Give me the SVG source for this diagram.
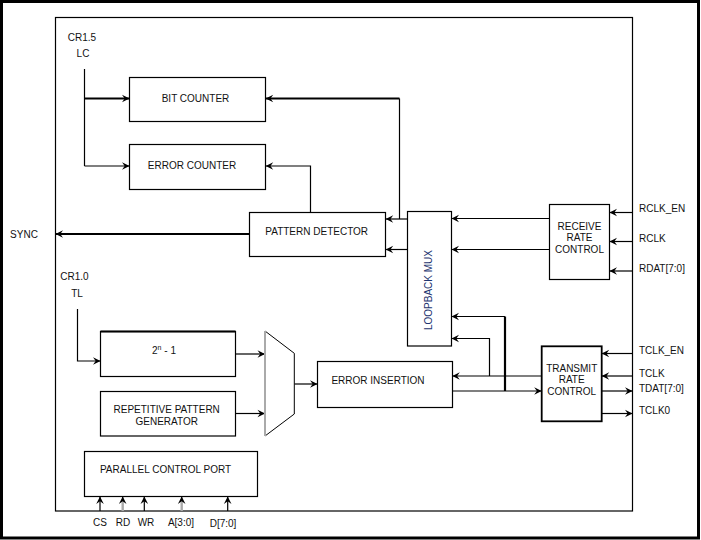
<svg xmlns="http://www.w3.org/2000/svg" width="701" height="540" viewBox="0 0 701 540">
<style>
text{font-family:"Liberation Sans",Arial,sans-serif;font-size:10px;fill:#111}
.c{text-anchor:middle}
.box{fill:#fff;stroke:#000;stroke-width:1.2}
.w{fill:none;stroke:#000;stroke-width:1.2}
.t{fill:none;stroke:#000;stroke-width:2.2}
.g{fill:none;stroke:#aaa;stroke-width:2.4}
.a{marker-end:url(#ah)}
</style>
<defs>
<marker id="ah" viewBox="-8 -5 10 10" markerWidth="10" markerHeight="10" refX="0" refY="0" orient="auto" markerUnits="userSpaceOnUse">
<path d="M0,0 L-7.5,-3.8 L-4.8,0 L-7.5,3.8 Z" fill="#000"/>
</marker>
</defs>
<rect x="0" y="0" width="701" height="540" fill="#fff"/>
<rect x="1.5" y="1.5" width="697" height="536.5" fill="none" stroke="#000" stroke-width="3"/>
<rect id="main" x="55.5" y="17.5" width="577" height="493.5" fill="none" stroke="#000" stroke-width="1.2"/>

<g id="labels">
<text x="82" y="41" class="c">CR1.5</text>
<text x="83" y="57" class="c">LC</text>
<text x="24" y="238" class="c">SYNC</text>
<text x="74.5" y="280" class="c">CR1.0</text>
<text x="77" y="297" class="c">TL</text>
<text x="639" y="212">RCLK_EN</text>
<text x="639" y="241.5">RCLK</text>
<text x="639" y="272">RDAT[7:0]</text>
<text x="639" y="354">TCLK_EN</text>
<text x="639" y="377">TCLK</text>
<text x="639" y="391.5">TDAT[7:0]</text>
<text x="639" y="413.5">TCLK0</text>
<text x="100" y="526" class="c">CS</text>
<text x="123" y="526" class="c">RD</text>
<text x="146" y="526" class="c">WR</text>
<text x="181" y="526" class="c">A[3:0]</text>
<text x="223" y="527" class="c">D[7:0]</text>
</g>

<g id="connectors">
<path class="w" d="M84.5,69 V166"/>
<path class="t a" d="M84.5,98.5 H129.5"/>
<path class="w a" d="M84.5,166 H129.5"/>
<path class="t a" d="M399.5,98.5 H265.7"/>
<path class="w" d="M399.5,98.5 V219"/>
<path class="w a" d="M310.5,212.5 V166 H265.7"/>
<path class="t a" d="M249.5,234 H55.5"/>
<path class="w a" d="M407.5,219 H385.7"/>
<path class="w a" d="M407.5,249.5 H385.7"/>
<path class="w a" d="M549.5,218.5 H451.5"/>
<path class="w a" d="M549.5,249.5 H451.5"/>
<path class="w a" d="M632.5,212.5 H609.5"/>
<path class="w a" d="M632.5,241.5 H609.5"/>
<path class="w a" d="M632.5,271 H609.5"/>
<path class="w a" d="M541.7,376 H452.3"/>
<path class="w a" d="M489.5,376 V338.5 H451.5"/>
<path class="w a" d="M452.3,391 H541.7"/>
<path class="t" d="M505,391 V316.5"/>
<path class="w a" d="M505,316.5 H451.5"/>
<path class="w a" d="M632.5,353.5 H601.7"/>
<path class="w a" d="M632.5,376 H601.7"/>
<path class="w a" d="M601.7,391 H632.5"/>
<path class="w a" d="M601.7,413.5 H632.5"/>
<path class="w a" d="M77.5,309 V361 H100.5"/>
<path class="w a" d="M235.7,354 H265"/>
<path class="w a" d="M235.7,413.5 H265"/>
<path class="w a" d="M294.3,384 H317.5"/>
<path class="w a" d="M100,511 V496.5"/>
<path class="g" d="M122.7,511 V500"/>
<path class="w a" d="M122.7,501 V496.5"/>
<path class="w a" d="M144.3,511 V496.5"/>
<path class="g" d="M181.7,511 V500"/>
<path class="w a" d="M181.7,501 V496.5"/>
<path class="w a" d="M227.7,511 V496.5"/>
</g>

<g id="bit_counter">
<rect class="box" x="129.5" y="77.5" width="136" height="44"/>
<text x="195.5" y="102" class="c">BIT COUNTER</text>
</g>
<g id="error_counter">
<rect class="box" x="129.5" y="144.5" width="136" height="45"/>
<text x="192" y="169" class="c">ERROR COUNTER</text>
</g>
<g id="pattern_detector">
<rect class="box" x="249.5" y="212.5" width="136" height="44"/>
<text x="316.7" y="234.5" class="c">PATTERN DETECTOR</text>
</g>
<g id="loopback_mux">
<rect class="box" x="407.5" y="211.5" width="44" height="134.5"/>
<text transform="translate(432,290) rotate(-90)" class="c" style="fill:#1e3570">LOOPBACK MUX</text>
</g>
<g id="receive_rate_control">
<rect class="box" x="549.5" y="204.5" width="60" height="75"/>
<text x="579.5" y="229.5" class="c">RECEIVE</text>
<text x="579.5" y="241" class="c">RATE</text>
<text x="579.5" y="252.5" class="c">CONTROL</text>
</g>
<g id="transmit_rate_control">
<rect class="box" x="541.7" y="346.3" width="60" height="75" style="stroke-width:1.8"/>
<text x="571.7" y="372" class="c">TRANSMIT</text>
<text x="571.7" y="383" class="c">RATE</text>
<text x="571.7" y="394.5" class="c">CONTROL</text>
</g>
<g id="error_insertion">
<rect class="box" x="317.5" y="361.5" width="135" height="46"/>
<text x="378" y="383.5" class="c">ERROR INSERTION</text>
</g>
<g id="prbs">
<rect class="box" x="100.5" y="331.5" width="135" height="45"/>
<path d="M100.5,331.5 H235.5" stroke="#000" stroke-width="2"/>
<text x="164" y="354" class="c">2<tspan dy="-4" style="font-size:7px">n</tspan><tspan dy="4"> - 1</tspan></text>
</g>
<g id="repetitive_pattern_generator">
<rect class="box" x="100.5" y="391.5" width="135" height="44.5"/>
<text x="166.7" y="412.5" class="c">REPETITIVE PATTERN</text>
<text x="166.7" y="424.5" class="c">GENERATOR</text>
</g>
<g id="mux">
<path d="M265,331 L294.3,353.3 V414 L265,436" fill="#fff" stroke="#000" stroke-width="1"/>
<path d="M265,331 V436" stroke="#aaa" stroke-width="2"/>
</g>
<g id="parallel_control_port">
<rect class="box" x="84.5" y="451.5" width="173" height="45"/>
<text x="165.5" y="473" class="c">PARALLEL CONTROL PORT</text>
</g>
</svg>
